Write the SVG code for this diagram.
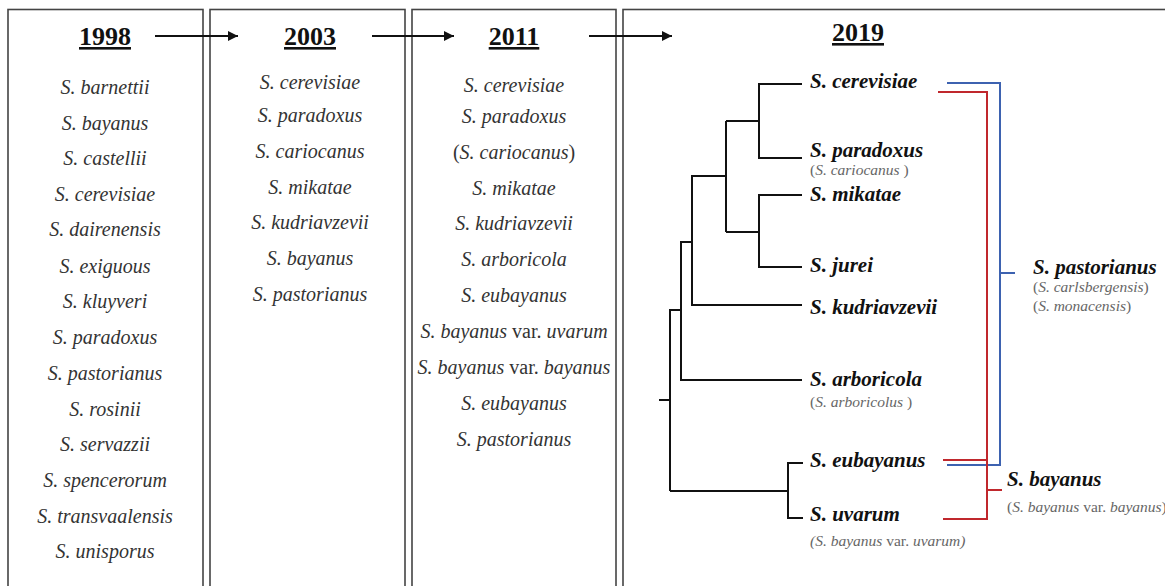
<svg xmlns="http://www.w3.org/2000/svg" width="1165" height="586" viewBox="0 0 1165 586">
<defs>
<marker id="ah" viewBox="0 0 10 10" refX="10" refY="5" markerWidth="11" markerHeight="10" markerUnits="userSpaceOnUse" orient="auto"><path d="M0,0 L10,5 L0,10 z" fill="#111"/></marker>
<style>
.box{fill:#fff;stroke:#444;stroke-width:1.6}
.hd{font-family:"Liberation Serif","Times New Roman",serif;font-weight:bold;font-size:26px;fill:#111;text-anchor:middle;text-decoration:underline}
.it{font-family:"Liberation Serif","Times New Roman",serif;font-style:italic;font-size:20px;fill:#333;text-anchor:middle}
.up{font-style:normal}
.lb{font-family:"Liberation Serif","Times New Roman",serif;font-style:italic;font-weight:bold;font-size:21px;fill:#111}
.sb{font-family:"Liberation Serif","Times New Roman",serif;font-style:italic;font-size:15.5px;fill:#666}
.tr{fill:none;stroke:#111;stroke-width:2}
.bl{fill:none;stroke:#3d62b0;stroke-width:2}
.rd{fill:none;stroke:#c0282d;stroke-width:2}
.ar{stroke:#111;stroke-width:2;marker-end:url(#ah)}
</style>
</defs>
<rect width="1165" height="586" fill="#fff"/>
<g id="box1998">
<rect class="box" x="8" y="9.5" width="195" height="590"/>
<text class="hd" x="105" y="45">1998</text>
<text class="it" x="105" y="94">S. barnettii</text>
<text class="it" x="105" y="130">S. bayanus</text>
<text class="it" x="105" y="165">S. castellii</text>
<text class="it" x="105" y="201">S. cerevisiae</text>
<text class="it" x="105" y="236">S. dairenensis</text>
<text class="it" x="105" y="273">S. exiguous</text>
<text class="it" x="105" y="308">S. kluyveri</text>
<text class="it" x="105" y="344">S. paradoxus</text>
<text class="it" x="105" y="380">S. pastorianus</text>
<text class="it" x="105" y="416">S. rosinii</text>
<text class="it" x="105" y="451">S. servazzii</text>
<text class="it" x="105" y="487">S. spencerorum</text>
<text class="it" x="105" y="523">S. transvaalensis</text>
<text class="it" x="105" y="558">S. unisporus</text>
</g>
<g id="box2003">
<rect class="box" x="210" y="9.5" width="195" height="590"/>
<text class="hd" x="310" y="45">2003</text>
<text class="it" x="310" y="89">S. cerevisiae</text>
<text class="it" x="310" y="122">S. paradoxus</text>
<text class="it" x="310" y="158">S. cariocanus</text>
<text class="it" x="310" y="194">S. mikatae</text>
<text class="it" x="310" y="229">S. kudriavzevii</text>
<text class="it" x="310" y="265">S. bayanus</text>
<text class="it" x="310" y="301">S. pastorianus</text>
</g>
<g id="box2011">
<rect class="box" x="412" y="9.5" width="204" height="590"/>
<text class="hd" x="514" y="45">2011</text>
<text class="it" x="514" y="92">S. cerevisiae</text>
<text class="it" x="514" y="123">S. paradoxus</text>
<text class="it" x="514" y="159"><tspan class="up">(</tspan>S. cariocanus<tspan class="up">)</tspan></text>
<text class="it" x="514" y="195">S. mikatae</text>
<text class="it" x="514" y="230">S. kudriavzevii</text>
<text class="it" x="514" y="266">S. arboricola</text>
<text class="it" x="514" y="302">S. eubayanus</text>
<text class="it" x="514" y="338">S. bayanus <tspan class="up">var.</tspan> uvarum</text>
<text class="it" x="514" y="374">S. bayanus <tspan class="up">var.</tspan> bayanus</text>
<text class="it" x="514" y="410">S. eubayanus</text>
<text class="it" x="514" y="446">S. pastorianus</text>
</g>
<g id="box2019">
<rect class="box" x="623" y="9.5" width="560" height="590"/>
<text class="hd" x="858" y="41">2019</text>
</g>
<g id="connectors">
<line class="ar" x1="155" y1="36" x2="238" y2="36"/>
<line class="ar" x1="372" y1="36" x2="454" y2="36"/>
<line class="ar" x1="589" y1="36" x2="672" y2="36"/>
<path class="tr" d="M802,84 H759 V158 H802 M759,121 H726 M802,195 H759 V267 H802 M759,232 H726 M726,121 V232 M726,176 H692 V305 H802 M692,242 H681 V380 H802 M681,310 H670 V491 M659,400 H670 M670,491 H788 M803,463 H788 V518 H803"/>
<path class="bl" d="M947,83 H1000 V465 H947 M1000,273 H1015"/>
<path class="rd" d="M938,92 H987 V519 H943 M943,460 H987 M987,490 H1002"/>
</g>
<g id="leaf-cerevisiae"><text class="lb" x="810" y="88">S. cerevisiae</text></g>
<g id="leaf-paradoxus"><text class="lb" x="810" y="157">S. paradoxus</text><text class="sb" x="810" y="175"><tspan font-style="normal">(</tspan>S. cariocanus <tspan font-style="normal">)</tspan></text></g>
<g id="leaf-mikatae"><text class="lb" x="810" y="201">S. mikatae</text></g>
<g id="leaf-jurei"><text class="lb" x="810" y="272">S. jurei</text></g>
<g id="leaf-kudriavzevii"><text class="lb" x="810" y="314">S. kudriavzevii</text></g>
<g id="leaf-arboricola"><text class="lb" x="810" y="386">S. arboricola</text><text class="sb" x="810" y="407"><tspan font-style="normal">(</tspan>S. arboricolus <tspan font-style="normal">)</tspan></text></g>
<g id="leaf-eubayanus"><text class="lb" x="810" y="467">S. eubayanus</text></g>
<g id="leaf-uvarum"><text class="lb" x="810" y="521">S. uvarum</text><text class="sb" x="810" y="546">(S. bayanus <tspan font-style="normal">var.</tspan> uvarum)</text></g>
<g id="hybrid-pastorianus"><text class="lb" x="1033" y="274">S. pastorianus</text><text class="sb" x="1033" y="292"><tspan font-style="normal">(</tspan>S. carlsbergensis<tspan font-style="normal">)</tspan></text><text class="sb" x="1033" y="311"><tspan font-style="normal">(</tspan>S. monacensis<tspan font-style="normal">)</tspan></text></g>
<g id="hybrid-bayanus"><text class="lb" x="1007" y="486">S. bayanus</text><text class="sb" x="1007" y="512"><tspan font-style="normal">(</tspan>S. bayanus <tspan font-style="normal">var.</tspan> bayanus<tspan font-style="normal">)</tspan></text></g>
</svg>
